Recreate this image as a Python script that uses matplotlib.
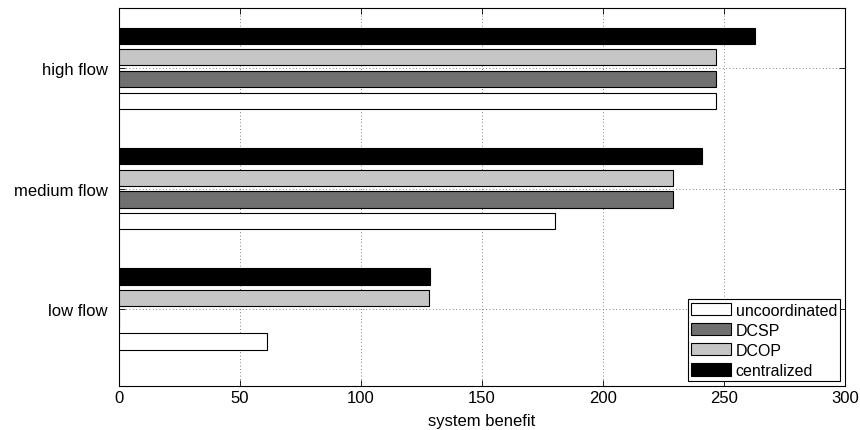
import matplotlib
matplotlib.use("Agg")
import matplotlib.pyplot as plt
import numpy as np

plt.rcParams["font.family"] = ["Liberation Sans", "DejaVu Sans"]
plt.rcParams["font.size"] = 12

categories = ["low flow", "medium flow", "high flow"]
series_names = ["uncoordinated", "DCSP", "DCOP", "centralized"]
uncoordinated = [61, 180, 246.5]
dcsp = [0, 229, 246.5]
dcop = [128, 229, 246.5]
centralized = [128.5, 241, 263]
colors = ["#ffffff", "#707070", "#c6c6c6", "#000000"]

fig = plt.figure(figsize=(8.6, 4.31), dpi=100)
ax = fig.add_axes([119 / 860, 1 - 387 / 431, (845 - 119) / 860, (387 - 9) / 431])

y = np.arange(1, len(categories) + 1)
offsets = [-0.27, -0.09, 0.09, 0.27]
height = 0.135
for vals, name, col, off in zip([uncoordinated, dcsp, dcop, centralized],
                                series_names, colors, offsets):
    ax.barh(y + off, vals, height=height, color=col, edgecolor="black",
            linewidth=0.8, label=name, zorder=3)

ax.set_xlim(0, 300)
ax.set_ylim(0.36, 3.5)
ax.set_xticks(np.arange(0, 301, 50))
ax.set_yticks(y)
ax.set_yticklabels(categories)
ax.set_xlabel("system benefit", labelpad=6)

ax.grid(True, linestyle=(0, (1, 3)), color="#555555", linewidth=0.6, zorder=0)
ax.tick_params(direction="in", top=True, right=True, length=4, width=0.6)
ax.tick_params(axis="x", pad=3)
ax.tick_params(axis="y", pad=8)
for s in ax.spines.values():
    s.set_linewidth(0.8)

leg = ax.legend(loc="lower right", fancybox=False, framealpha=1, edgecolor="black",
                fontsize=11.5, borderpad=0.2, labelspacing=0.32, handlelength=2.5,
                handleheight=0.8, handletextpad=0.3, borderaxespad=0.3)
leg.get_frame().set_linewidth(0.8)

fig.savefig("out.png", dpi=100)
